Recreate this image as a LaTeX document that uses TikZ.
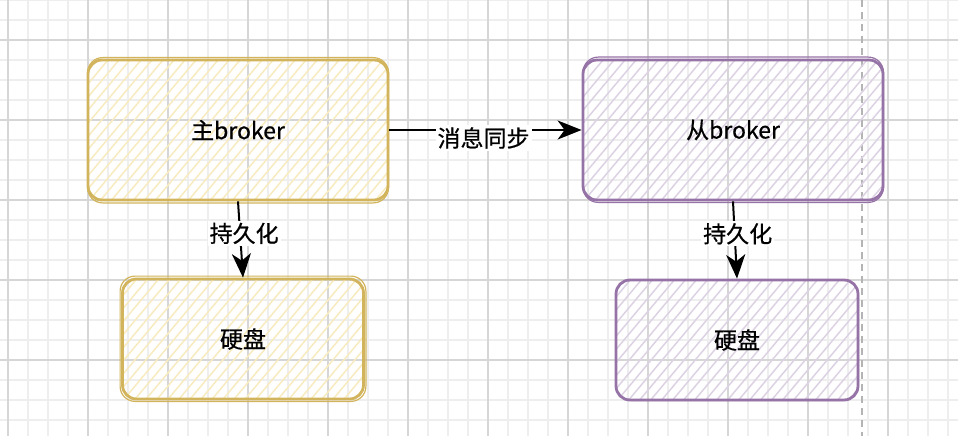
\documentclass[tikz,border=0pt]{standalone}
\usepackage{fontspec}
\setmainfont{Noto Sans CJK SC}[UprightFeatures={FakeBold=0.6}]
\usetikzlibrary{arrows.meta,calc}
\definecolor{ystroke}{HTML}{D2B45C}
\definecolor{yhatch}{HTML}{F8EBC0}
\definecolor{pstroke}{HTML}{9673A6}
\definecolor{phatch}{HTML}{DCD2E4}
\definecolor{gridminor}{HTML}{EEEEEE}
\definecolor{gridmajor}{HTML}{D6D6D6}
\definecolor{pageline}{HTML}{B4B4B4}
\tikzset{
  hatchfill/.style={path picture={
    \foreach \i in {-220,-209,...,320} {
      \draw[#1,line width=1.5pt] ([xshift=\i pt,yshift=-2pt]path picture bounding box.south west) -- ++(150pt,179pt);
    }}},
  box/.style={rounded corners=14pt, line width=2.8pt, inner sep=0pt, font=\fontsize{23}{28}\selectfont},
  ybox/.style={box, draw=ystroke, hatchfill=yhatch},
  pbox/.style={box, draw=pstroke, hatchfill=phatch},
  ysketch/.style={draw=ystroke, line width=1.2pt, rounded corners=15pt},
  psketch/.style={draw=pstroke, line width=1.2pt, rounded corners=15pt},
  arr/.style={line width=2pt, -{Stealth[length=24pt,width=19pt,inset=7pt]}},
  lab/.style={fill=white, inner sep=2pt, font=\fontsize{23}{28}\selectfont},
}
\begin{document}
\begin{tikzpicture}[x=1pt,y=-1pt]
\useasboundingbox (0,0) rectangle (958,436);
\fill[white] (0,0) rectangle (958,436);
% grid
\foreach \x in {8,28,...,958} \draw[gridminor,line width=1.2pt] (\x,0) -- (\x,436);
\foreach \y in {0,20,...,436} \draw[gridminor,line width=1.2pt] (0,\y) -- (958,\y);
\foreach \x in {8,88,...,958} \draw[gridmajor,line width=1.2pt] (\x,0) -- (\x,436);
\foreach \y in {40,120,...,436} \draw[gridmajor,line width=1.2pt] (0,\y) -- (958,\y);
% page break line
\draw[pageline,line width=2pt,dash pattern=on 7pt off 5pt] (862,0) -- (862,436);

% boxes
\node[ybox, minimum width=300pt, minimum height=140pt] (master) at (238,130) {主broker};
\node[pbox, minimum width=300pt, minimum height=140pt] (slave) at (733,130) {从broker};
\node[ybox, minimum width=241pt, minimum height=120pt] (disk1) at (243,339) {硬盘};
\node[pbox, minimum width=242pt, minimum height=120pt] (disk2) at (737,340) {硬盘};

% sketch second strokes
\draw[ysketch] ([shift={(1pt,-1.5pt)}]master.south west) rectangle ([shift={(-1pt,1pt)}]master.north east);
\draw[psketch] ([shift={(1.5pt,-1pt)}]slave.south west) rectangle ([shift={(-1pt,1.5pt)}]slave.north east);
\draw[ysketch] ([shift={(-1pt,-1pt)}]disk1.south west) rectangle ([shift={(1pt,1.5pt)}]disk1.north east);
\draw[psketch] ([shift={(1.5pt,1pt)}]disk2.south west) rectangle ([shift={(-1pt,-1pt)}]disk2.north east);

% connectors
\draw[arr] (master.east) -- (slave.west)
  node[lab, pos=0.49, yshift=-8pt] {消息同步};
\draw[arr] (master.south) -- (disk1.north)
  node[lab, pos=0.42, xshift=4pt] {持久化};
\draw[arr] (slave.south) -- (disk2.north)
  node[lab, pos=0.42, xshift=3pt] {持久化};
\end{tikzpicture}
\end{document}
